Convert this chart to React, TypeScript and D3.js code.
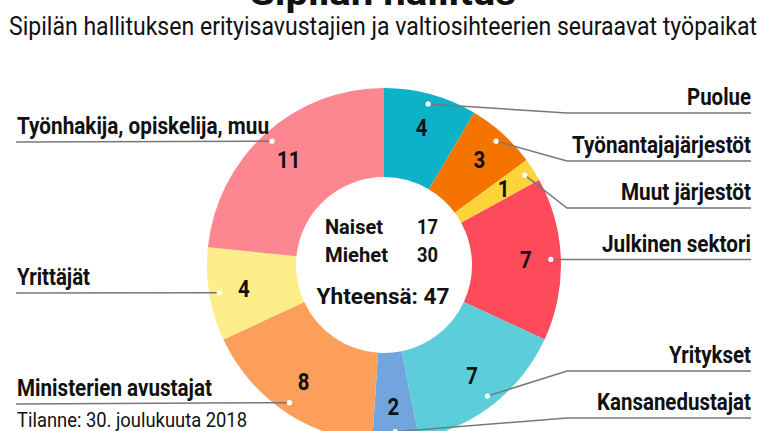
import React from "react";
import * as d3 from "d3";

// seuraavat työpaikat, myötäpäivään klo 12:sta
const categories = [
  "Puolue",
  "Työnantajajärjestöt",
  "Muut järjestöt",
  "Julkinen sektori",
  "Yritykset",
  "Kansanedustajat",
  "Ministerien avustajat",
  "Yrittäjät",
  "Työnhakija, opiskelija, muu",
];
const counts = [4, 3, 1, 7, 7, 2, 8, 4, 11];
const colors = [
  "#0db2c8",
  "#f57300",
  "#fdd43a",
  "#fe4b5b",
  "#5ccedb",
  "#72a5de",
  "#fb9f5a",
  "#fdee8a",
  "#fd8790",
];
const genderLabels = ["Naiset", "Miehet"];
const genderCounts = [17, 30];

// label placement (side, y of underline, fitted text width)
const labelLayout = [
  { side: "right", lineY: 113, w: 64 },
  { side: "right", lineY: 161, w: 179 },
  { side: "right", lineY: 208, w: 130 },
  { side: "right", lineY: 260, w: 149 },
  { side: "right", lineY: 371, w: 82 },
  { side: "right", lineY: 418, w: 154 },
  { side: "left", lineY: 404, w: 195 },
  { side: "left", lineY: 293, w: 73 },
  { side: "left", lineY: 142, w: 252 },
];

const W = 767;
const H = 431;
const cx = 384;
const cy = 265;
const inner = 88;
const outer = 177;
const font = "Roboto, 'Open Sans', sans-serif";

export default function App() {
  const data = categories.map((c, i) => ({ name: c, value: counts[i], i }));
  const pie = d3
    .pie<any>()
    .sort(null)
    .value((d) => d.value);
  const arcs = pie(data);
  const arc = d3.arc<any>().innerRadius(inner).outerRadius(outer);
  const labelArc = d3.arc<any>().innerRadius(142).outerRadius(142);
  const dotArc = d3.arc<any>().innerRadius(167).outerRadius(167);
  const total = d3.sum(counts);

  return (
    <svg
      width={W}
      height={H}
      style={{ position: "absolute", left: 0, top: 0, background: "#fff" }}
      fontFamily={font}
    >
      <text
        x={383}
        y={5}
        textAnchor="middle"
        fontSize={36}
        fontWeight={700}
        textLength={266}
        lengthAdjust="spacingAndGlyphs"
        fill="#111"
      >
        Sipilän hallitus
      </text>
      <text
        x={9}
        y={35}
        fontSize={25}
        textLength={748}
        lengthAdjust="spacingAndGlyphs"
        fill="#111"
      >
        Sipilän hallituksen erityisavustajien ja valtiosihteerien seuraavat työpaikat
      </text>

      <g transform={`translate(${cx},${cy})`}>
        {arcs.map((a, i) => (
          <path key={i} d={arc(a) as string} fill={colors[i]} />
        ))}
      </g>

      {arcs.map((a, i) => {
        const L = labelLayout[i];
        const [dx, dy] = dotArc.centroid(a);
        const px = cx + dx;
        const py = cy + dy;
        let pts: [number, number][];
        if (L.side === "right") {
          pts = Math.abs(py - L.lineY) < 3 ? [[px, py], [751, py]] : [[px, py], [567, L.lineY], [751, L.lineY]];
        } else {
          pts = [[px, py], [16, L.lineY]];
        }
        return (
          <g key={i}>
            <path
              d={d3.line()(pts) as string}
              fill="none"
              stroke="#777"
              strokeWidth={1.5}
            />
            <circle cx={px} cy={py} r={2.6} fill="#fff" />
            <text
              x={L.side === "right" ? 751 : 17}
              y={L.lineY - 8}
              textAnchor={L.side === "right" ? "end" : "start"}
              fontSize={23}
              fontWeight={700}
              textLength={L.w}
              lengthAdjust="spacingAndGlyphs"
              fill="#111"
            >
              {a.data.name}
            </text>
          </g>
        );
      })}

      {arcs.map((a, i) => {
        const [lx, ly] = labelArc.centroid(a);
        return (
          <text
            key={i}
            x={cx + lx}
            y={cy + ly + 8}
            textAnchor="middle"
            fontSize={24}
            fontWeight={700}
            fill="#111"
            transform={`translate(${cx + lx},0) scale(0.85,1) translate(${-(cx + lx)},0)`}
          >
            {a.data.value}
          </text>
        );
      })}

      {genderLabels.map((g, i) => (
        <g key={g} fontSize={21} fontWeight={700} fill="#111">
          <text
            x={325}
            y={234 + i * 28}
            textLength={g === "Naiset" ? 58 : 63}
            lengthAdjust="spacingAndGlyphs"
          >
            {g}
          </text>
          <text
            x={438}
            y={234 + i * 28}
            textAnchor="end"
            textLength={21}
            lengthAdjust="spacingAndGlyphs"
          >
            {genderCounts[i]}
          </text>
        </g>
      ))}
      <text
        x={383}
        y={304}
        textAnchor="middle"
        fontSize={22}
        fontWeight={700}
        textLength={133}
        lengthAdjust="spacingAndGlyphs"
        fill="#111"
      >
        {`Yhteensä: ${total}`}
      </text>

      <text
        x={17}
        y={427}
        fontSize={21}
        textLength={230}
        lengthAdjust="spacingAndGlyphs"
        fill="#111"
      >
        Tilanne: 30. joulukuuta 2018
      </text>
    </svg>
  );
}
